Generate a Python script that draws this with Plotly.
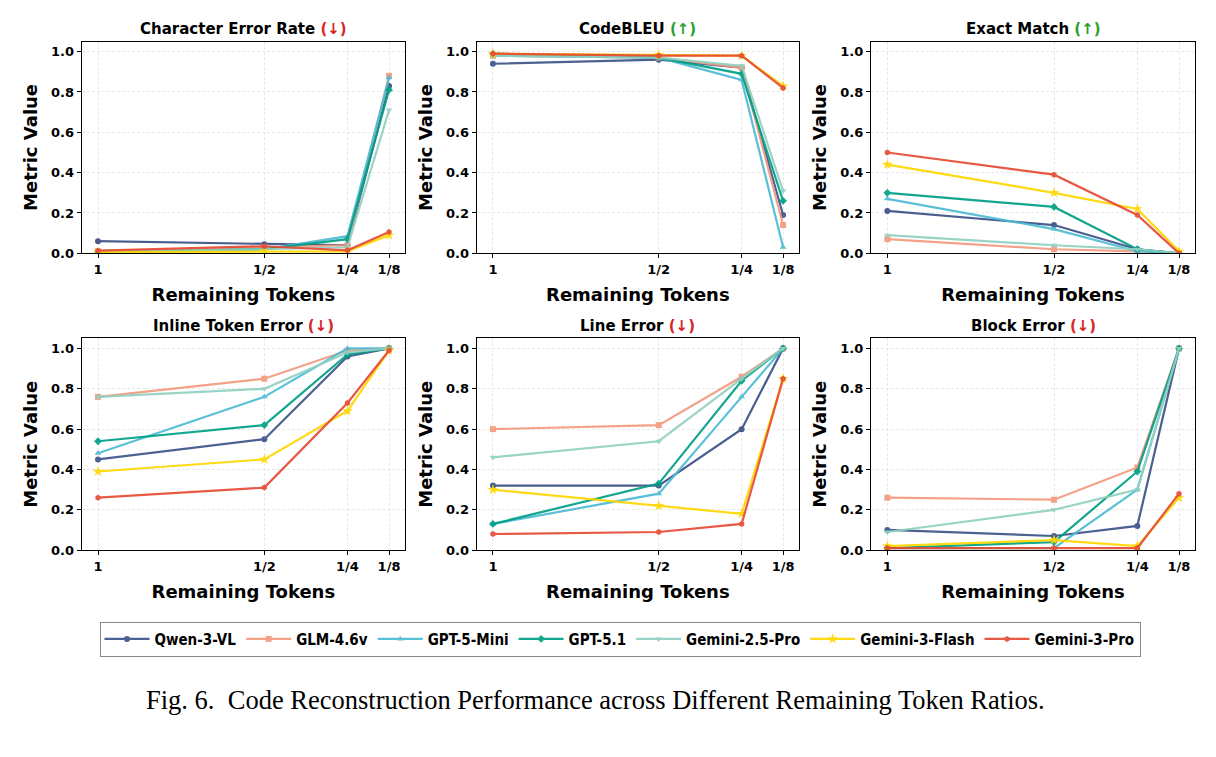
import plotly.graph_objects as go

ratios = [1, 0.5, 0.25, 0.125]
tick_labels = ["1", "1/2", "1/4", "1/8"]

models = ["Qwen-3-VL", "GLM-4.6v", "GPT-5-Mini", "GPT-5.1", "Gemini-2.5-Pro", "Gemini-3-Flash", "Gemini-3-Pro"]
colors = ["#3C5488", "#F39B7F", "#4DBBD5", "#00A087", "#91D1C2", "#FFD700", "#E64B35"]
symbols = ["circle", "square", "triangle-up", "diamond", "triangle-down", "star", "hexagon"]

cer = {
    "Qwen-3-VL": [0.06, 0.045, 0.04, 0.83],
    "GLM-4.6v": [0.01, 0.03, 0.04, 0.88],
    "GPT-5-Mini": [0.005, 0.02, 0.085, 0.87],
    "GPT-5.1": [0.005, 0.02, 0.07, 0.81],
    "Gemini-2.5-Pro": [0.01, 0.02, 0.03, 0.71],
    "Gemini-3-Flash": [0.005, 0.01, 0.01, 0.09],
    "Gemini-3-Pro": [0.013, 0.035, 0.015, 0.105],
}
codebleu = {
    "Qwen-3-VL": [0.94, 0.96, 0.92, 0.19],
    "GLM-4.6v": [0.98, 0.97, 0.92, 0.14],
    "GPT-5-Mini": [0.98, 0.97, 0.86, 0.03],
    "GPT-5.1": [0.99, 0.97, 0.89, 0.26],
    "Gemini-2.5-Pro": [0.98, 0.97, 0.93, 0.31],
    "Gemini-3-Flash": [0.99, 0.985, 0.98, 0.83],
    "Gemini-3-Pro": [0.99, 0.98, 0.98, 0.82],
}
exact_match = {
    "Qwen-3-VL": [0.21, 0.14, 0.02, 0.0],
    "GLM-4.6v": [0.07, 0.02, 0.01, 0.0],
    "GPT-5-Mini": [0.27, 0.12, 0.01, 0.0],
    "GPT-5.1": [0.30, 0.23, 0.02, 0.0],
    "Gemini-2.5-Pro": [0.09, 0.04, 0.02, 0.0],
    "Gemini-3-Flash": [0.44, 0.30, 0.22, 0.01],
    "Gemini-3-Pro": [0.50, 0.39, 0.19, 0.0],
}
inline_err = {
    "Qwen-3-VL": [0.45, 0.55, 0.96, 1.0],
    "GLM-4.6v": [0.76, 0.85, 0.99, 1.0],
    "GPT-5-Mini": [0.48, 0.76, 1.0, 1.0],
    "GPT-5.1": [0.54, 0.62, 0.97, 1.0],
    "Gemini-2.5-Pro": [0.76, 0.80, 0.98, 1.0],
    "Gemini-3-Flash": [0.39, 0.45, 0.69, 0.99],
    "Gemini-3-Pro": [0.26, 0.31, 0.73, 0.99],
}
line_err = {
    "Qwen-3-VL": [0.32, 0.32, 0.60, 1.0],
    "GLM-4.6v": [0.60, 0.62, 0.86, 1.0],
    "GPT-5-Mini": [0.13, 0.28, 0.76, 1.0],
    "GPT-5.1": [0.13, 0.33, 0.84, 1.0],
    "Gemini-2.5-Pro": [0.46, 0.54, 0.85, 1.0],
    "Gemini-3-Flash": [0.30, 0.22, 0.18, 0.85],
    "Gemini-3-Pro": [0.08, 0.09, 0.13, 0.85],
}
block_err = {
    "Qwen-3-VL": [0.10, 0.07, 0.12, 1.0],
    "GLM-4.6v": [0.26, 0.25, 0.41, 1.0],
    "GPT-5-Mini": [0.01, 0.01, 0.30, 1.0],
    "GPT-5.1": [0.01, 0.04, 0.39, 1.0],
    "Gemini-2.5-Pro": [0.09, 0.20, 0.30, 1.0],
    "Gemini-3-Flash": [0.02, 0.05, 0.02, 0.26],
    "Gemini-3-Pro": [0.01, 0.01, 0.01, 0.28],
}

panel_titles = ["Character Error Rate", "CodeBLEU", "Exact Match", "Inline Token Error", "Line Error", "Block Error"]
panel_dirs = ["down", "up", "up", "down", "down", "down"]
panel_data = [cer, codebleu, exact_match, inline_err, line_err, block_err]

W, H = 1216, 757
col_px = [(81.7, 405.0), (476.7, 799.0), (871.0, 1195.0)]
row_px = [(42.0, 256.0), (342.0, 556.0)]

fig = go.Figure()
FONT = "DejaVu Sans"

for i, (title, d, data) in enumerate(zip(panel_titles, panel_dirs, panel_data)):
    r, c = divmod(i, 3)
    n = i + 1
    xa = "x" if n == 1 else f"x{n}"
    ya = "y" if n == 1 else f"y{n}"
    for m, col, sym in zip(models, colors, symbols):
        fig.add_trace(go.Scatter(
            x=ratios, y=data[m], mode="lines+markers", name=m,
            line=dict(color=col, width=2.2),
            marker=dict(symbol=sym, size=6 if sym != "star" else 8, color=col),
            opacity=0.92,
            xaxis=xa, yaxis=ya, showlegend=(i == 0), legendgroup=m,
        ))
    x0, x1 = col_px[c]
    y0, y1 = row_px[r]
    common = dict(showline=True, linecolor="black", linewidth=1.3, mirror=True,
                  ticks="outside", ticklen=4, tickwidth=1.2, tickcolor="black",
                  showgrid=True, gridcolor="#e8e8e8", griddash="3px,2px", gridwidth=0.8,
                  zeroline=False,
                  tickfont=dict(family=FONT, size=13, color="black", weight="bold"),
                  title_font=dict(family=FONT, size=18, color="black", weight="bold"))
    fig.layout[f"xaxis{'' if n == 1 else n}"] = dict(
        domain=[x0 / W, x1 / W], anchor=ya, range=[1.049, 0.077],
        tickvals=ratios, ticktext=tick_labels,
        title=dict(text="Remaining Tokens", standoff=12), **common)
    fig.layout[f"yaxis{'' if n == 1 else n}"] = dict(
        domain=[1 - y1 / H, 1 - y0 / H], anchor=xa, range=[0, 1.05],
        dtick=0.2, tickformat=".1f",
        title=dict(text="Metric Value", standoff=8), **common)
    arrow = "<span style='color:#d62728'>(↓)</span>" if d == "down" else "<span style='color:#2ca02c'>(↑)</span>"
    fig.add_annotation(text=f"<b>{title} {arrow}</b>", x=(x0 + x1) / 2 / W, y=1 - (y0 - 13) / H,
                       xref="paper", yref="paper", xanchor="center", yanchor="middle",
                       showarrow=False, font=dict(family=FONT, size=15, color="black"))

fig.add_annotation(text="Fig. 6.  Code Reconstruction Performance across Different Remaining Token Ratios.",
                   x=595 / W, y=1 - 707 / H, xref="paper", yref="paper", xanchor="center", yanchor="middle",
                   showarrow=False, font=dict(family="Liberation Serif", size=26.5, color="black"))

fig.update_layout(
    width=W, height=H, margin=dict(l=0, r=0, t=0, b=0),
    paper_bgcolor="white", plot_bgcolor="white",
    legend=dict(orientation="h", x=620 / W, xanchor="center", y=1 - 646 / H, yanchor="middle",
                bordercolor="#888888", borderwidth=1, bgcolor="white",
                font=dict(family="DejaVu Sans Condensed", size=15, color="black", weight="bold"),
                itemwidth=45),
)

fig.write_html("out.html")
